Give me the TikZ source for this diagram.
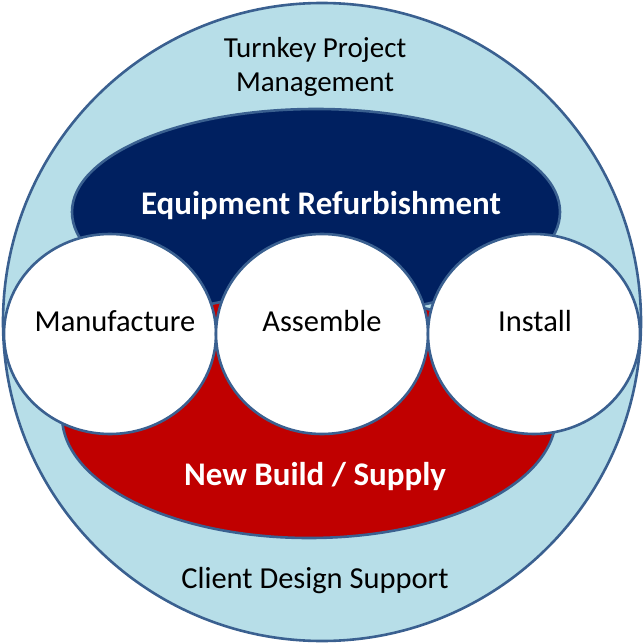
\documentclass[tikz,border=0pt]{standalone}
\usepackage{fontspec}
\setmainfont{Carlito}
\usetikzlibrary{shapes.geometric}
\definecolor{rim}{HTML}{3A6090}
\definecolor{sky}{HTML}{B7DEE8}
\definecolor{navy}{HTML}{002060}
\definecolor{crimson}{HTML}{C00000}
\tikzset{
  blob/.style={draw=rim, line width=2.6pt, ellipse, inner sep=0pt},
  stage/.style={blob, fill=white, minimum width=212pt, minimum height=200pt},
  caption/.style={font=\fontsize{30.5}{34}\selectfont, align=center},
  heading/.style={text=white, font=\fontsize{33}{38}\selectfont\bfseries},
}
\begin{document}
\begin{tikzpicture}[x=1pt, y=-1pt, line join=round] % service circle
  \useasboundingbox (0,0) rectangle (644,644);
  \node[blob, fill=sky, minimum width=638pt, minimum height=638pt] (outer) at (322,322) {};
  \node[blob, fill=navy, minimum width=488pt, minimum height=206pt] (refurb) at (316,212) {};
  \node[blob, fill=crimson, minimum width=494pt, minimum height=244pt] (newbuild) at (309,416) {};
  \node[stage] (manuf) at (110,334) {};
  \node[stage] (assem) at (322,334) {};
  \node[stage] (inst) at (534,334) {};
  \node[caption, font=\fontsize{29}{34}\selectfont] (turnkey) at (315,67) {Turnkey Project\\Management};
  \node[heading] (refurbtext) at (321,206) {Equipment Refurbishment};
  \node[caption] (manuftext) at (115,321) {Manufacture};
  \node[caption] (assemtext) at (322,321) {Assemble};
  \node[caption] (insttext) at (535,321) {Install};
  \node[heading] (newbuildtext) at (315,477) {New Build / Supply};
  \node[caption] (client) at (315,581) {Client Design Support};
\end{tikzpicture}
\end{document}
